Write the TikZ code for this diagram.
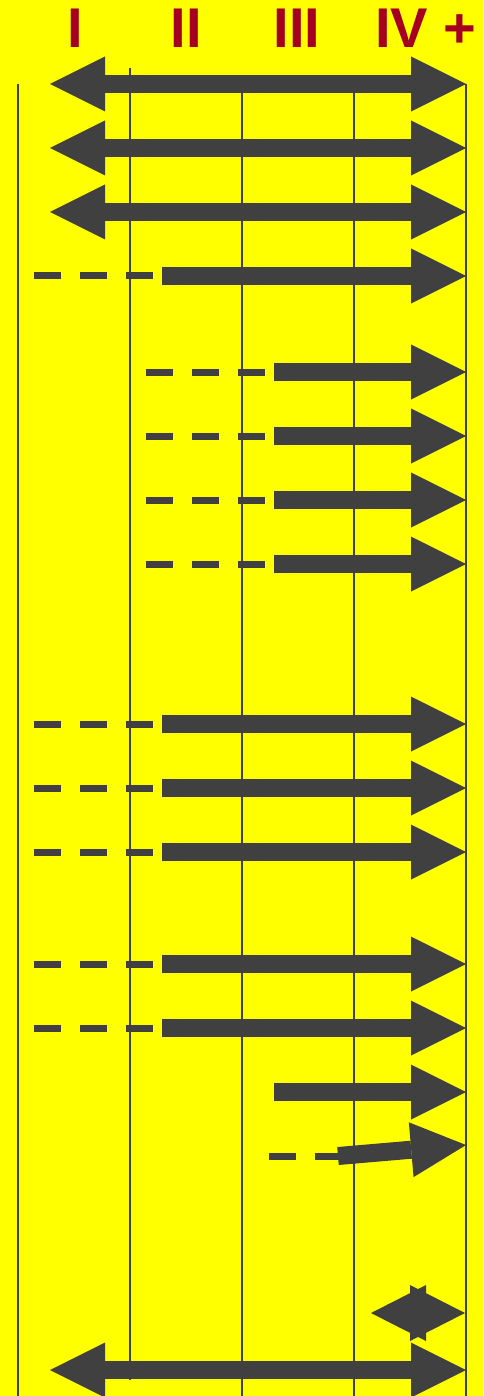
\documentclass[tikz,border=0pt]{standalone}
\usepackage{fontspec}
\setmainfont{Liberation Sans}
\usetikzlibrary{arrows.meta}
\definecolor{bg}{RGB}{255,255,0}
\definecolor{ink}{RGB}{64,64,64}
\definecolor{lab}{RGB}{165,0,33}
\begin{document}
\begin{tikzpicture}[x=1pt,y=-1pt,
  vline/.style={ink,line width=2pt},
  bigarrow/.style={ink,line width=18pt,-{Triangle[length=55pt,width=55pt,line width=0pt]}},
  dbarrow/.style={ink,line width=18pt,{Triangle[length=55pt,width=55pt,line width=0pt]}-{Triangle[length=55pt,width=55pt,line width=0pt]}},
  dashpart/.style={ink,line width=7pt,dash pattern=on 27pt off 19pt},
  lbl/.style={lab,font=\fontsize{56}{56}\selectfont\bfseries,inner sep=0pt,anchor=base}]
\fill[bg] (0,0) rectangle (483,1396);
\useasboundingbox (0,0) rectangle (483,1396);
% labels
\node[lbl] (l1) at (75.5,48) {I};
\node[lbl] (l2) at (186,48) {II};
\node[lbl] (l3) at (297,48) {III};
\node[lbl] (l4) at (426,48) {IV +};
% vertical lines
\draw[vline] (18,84) -- (18,1396);
\draw[vline] (130,68) -- (130,1380);
\draw[vline] (242,84) -- (242,1396);
\draw[vline] (354,84) -- (354,1396);
\draw[vline] (466,84) -- (466,1396);
% double arrows
\foreach \y in {84,148,212,1370} {
  \draw[dbarrow] (50,\y) -- (466,\y);
}
% long dashed arrows
\foreach \y in {276,724,788,852,964,1028} {
  \draw[dashpart] (34,\y) -- (154,\y);
  \draw[bigarrow] (162,\y) -- (466,\y);
}
% medium dashed arrows
\foreach \y in {372,436,500,564} {
  \draw[dashpart] (146,\y) -- (266,\y);
  \draw[bigarrow] (274,\y) -- (466,\y);
}
% plain arrow
\draw[bigarrow] (274,1092) -- (466,1092);
% slanted arrow
\draw[dashpart] (269,1156) -- (340,1156);
\draw[bigarrow] (338,1156) -- (466,1145);
% small double arrow
\fill[ink] (371,1313) -- (426,1285) -- (426,1341) -- cycle;
\fill[ink] (465,1313) -- (410,1285) -- (410,1341) -- cycle;
\end{tikzpicture}
\end{document}
